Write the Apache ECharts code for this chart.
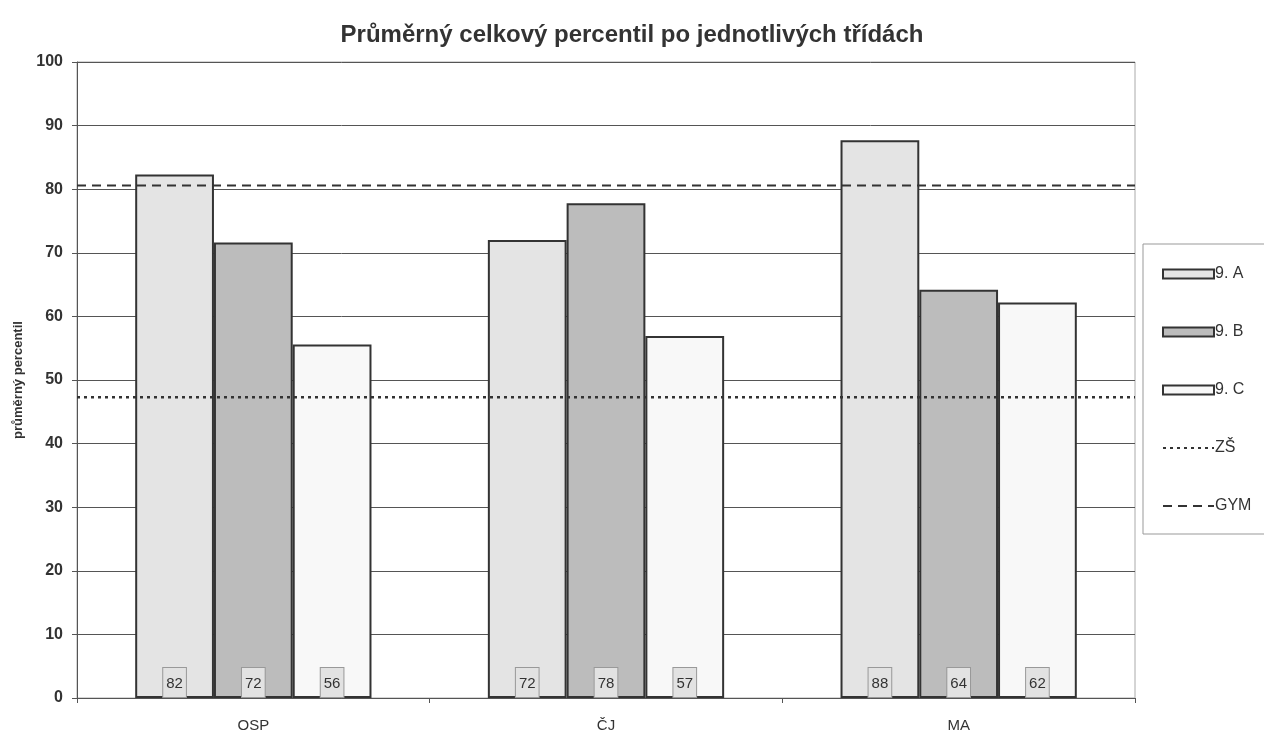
<!DOCTYPE html>
<html>
<head>
<meta charset="utf-8">
<script src="https://cdn.jsdelivr.net/npm/echarts@6/dist/echarts.min.js"></script>
<style>
html, body { margin: 0; padding: 0; background: #fff; }
#chart { width: 1264px; height: 733px; }
</style>
</head>
<body>
<div id="chart"></div>
<script>
// data
var subjects = ['OSP', 'ČJ', 'MA'];
var classA = [82.3, 72.0, 87.7];
var classB = [71.6, 77.8, 64.2];
var classC = [55.6, 56.9, 62.2];
var labelsA = ['82', '72', '88'];
var labelsB = ['72', '78', '64'];
var labelsC = ['56', '57', '62'];
var zsValue = 47.3;
var gymValue = 80.6;
var yTicks = [0, 10, 20, 30, 40, 50, 60, 70, 80, 90, 100];

var chart = echarts.init(document.getElementById('chart'));
var font = '"Liberation Sans", Arial, sans-serif';

function barLabel(texts) {
    return {
        show: true,
        position: 'insideBottom',
        distance: 1,
        formatter: function (p) { return texts[p.dataIndex]; },
        fontFamily: font,
        fontSize: 15,
        color: '#333',
        backgroundColor: '#e2e2e2',
        borderColor: '#999',
        borderWidth: 1,
        padding: [8, 3, 6, 3]
    };
}

function barSeries(name, data, color, texts) {
    return {
        name: name,
        type: 'bar',
        data: data,
        barGap: 0,
        barCategoryGap: '33%',
        itemStyle: { color: color, borderColor: '#333', borderWidth: 2 },
        label: barLabel(texts)
    };
}

function refLine(name, value, type, width) {
    return {
        name: name,
        type: 'line',
        xAxisIndex: 1,
        symbol: 'none',
        data: [[0, value], [1, value]],
        itemStyle: { color: '#333' },
        lineStyle: { color: '#333', width: width, type: type },
        z: 5
    };
}

var option = {
    animation: false,
    textStyle: { fontFamily: font },
    title: {
        text: 'Průměrný celkový percentil po jednotlivých třídách',
        left: 'center',
        top: 18,
        textStyle: { fontFamily: font, fontSize: 24, fontWeight: 'bold', color: '#333' }
    },
    legend: {
        orient: 'vertical',
        left: 1143,
        top: 244,
        padding: [22, 20, 20, 19],
        borderColor: '#999',
        borderWidth: 1,
        itemWidth: 51,
        itemHeight: 9,
        itemGap: 42,
        textStyle: { fontFamily: font, fontSize: 16, color: '#333', padding: [0, 0, 0, -4] },
        data: [
            { name: '9. A', icon: 'rect' },
            { name: '9. B', icon: 'rect' },
            { name: '9. C', icon: 'rect' },
            { name: 'ZŠ', itemStyle: { opacity: 0 } },
            { name: 'GYM', itemStyle: { opacity: 0 } }
        ]
    },
    grid: {
        left: 77, right: 129, top: 62, bottom: 34,
        show: true,
        borderColor: '#aaa',
        borderWidth: 1
    },
    xAxis: [{
        type: 'category',
        data: subjects,
        axisLine: { lineStyle: { color: '#555', width: 1 } },
        axisTick: { show: true, length: 5, lineStyle: { color: '#555' } },
        axisLabel: { fontFamily: font, fontSize: 15, color: '#333', margin: 20 }
    }, {
        type: 'value',
        min: 0,
        max: 1,
        show: false
    }],
    yAxis: {
        type: 'value',
        min: yTicks[0],
        max: yTicks[yTicks.length - 1],
        interval: 10,
        name: 'průměrný percentil',
        nameLocation: 'middle',
        nameGap: 52,
        nameTextStyle: { fontFamily: font, fontSize: 13, fontWeight: 'bold', color: '#333' },
        axisLine: { show: true, lineStyle: { color: '#555', width: 1 } },
        axisTick: { show: true, length: 5, lineStyle: { color: '#555' } },
        axisLabel: { fontFamily: font, fontSize: 16, fontWeight: 'bold', color: '#333', margin: 14 },
        splitLine: { lineStyle: { color: '#555', width: 1 } }
    },
    series: [
        barSeries('9. A', classA, '#e4e4e4', labelsA),
        barSeries('9. B', classB, '#bcbcbc', labelsB),
        barSeries('9. C', classC, '#f8f8f8', labelsC),
        refLine('ZŠ', zsValue, [3, 4], 2.5),
        refLine('GYM', gymValue, [9, 6], 2)
    ]
};

chart.setOption(option);
</script>
</body>
</html>
